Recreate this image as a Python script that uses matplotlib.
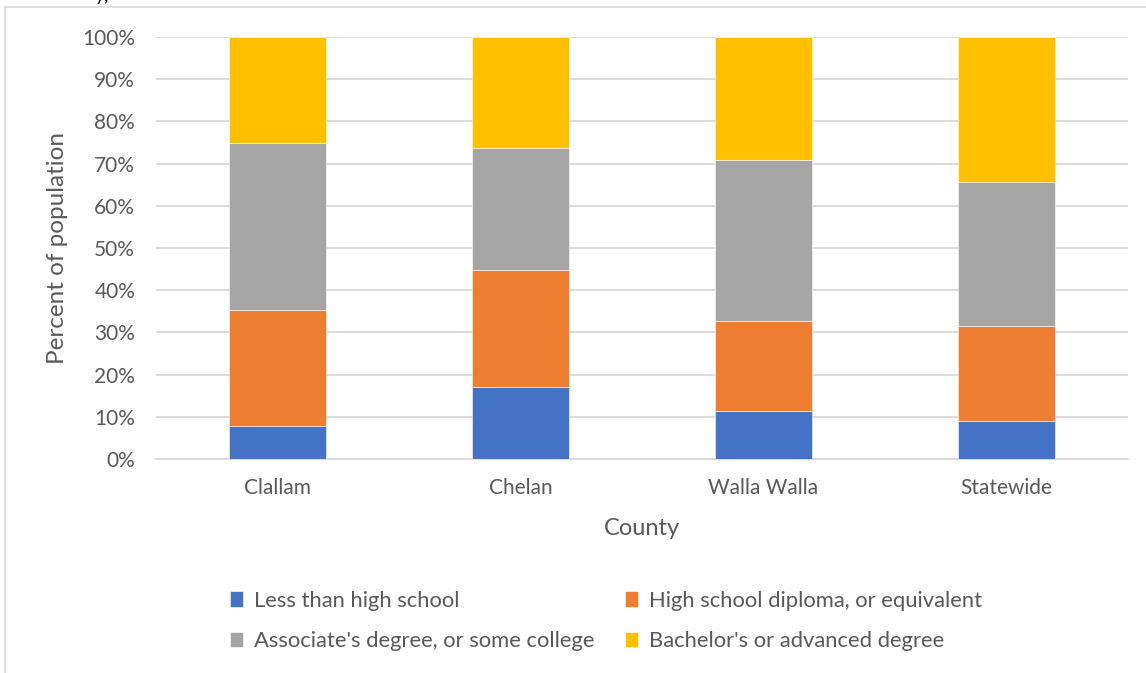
import matplotlib
matplotlib.use("Agg")
import matplotlib.pyplot as plt
from matplotlib.patches import Rectangle
import numpy as np

counties = ["Clallam", "Chelan", "Walla Walla", "Statewide"]
series_names = [
    "Less than high school",
    "High school diploma, or equivalent",
    "Associate's degree, or some college",
    "Bachelor's or advanced degree",
]
less_than_hs = [7.8, 17.1, 11.4, 9.0]
hs_diploma = [27.4, 27.7, 21.3, 22.5]
associates = [39.7, 28.9, 38.2, 34.1]
bachelors = [25.1, 26.3, 29.1, 34.4]
colors = ["#4472C4", "#ED7D31", "#A5A5A5", "#FFC000"]

plt.rcParams["font.family"] = ["Lato", "DejaVu Sans"]
text_color = "#595959"
grid_color = "#D9D9D9"

fig = plt.figure(figsize=(11.46, 6.73), dpi=100)
W, H = 1146, 673
ax = fig.add_axes([156 / W, 1 - 459 / H, (1128 - 156) / W, (459 - 37) / H])

# outer chart frame
fig.add_artist(Rectangle((5 / W, -0.1), 1.2, 1 - 7 / H + 0.1, transform=fig.transFigure,
                         fill=False, edgecolor=grid_color, linewidth=1.2))
fig.text(95 / W, 1 + 4 / H, "y,", fontsize=14, color="#000000", va="center")

x = np.arange(len(counties))
bottom = np.zeros(len(counties))
for name, vals, c in zip(series_names, [less_than_hs, hs_diploma, associates, bachelors], colors):
    ax.bar(x, vals, width=0.4, bottom=bottom, color=c, label=name, zorder=3,
           edgecolor="white", linewidth=0.4)
    bottom += np.array(vals)

ax.set_xlim(-0.5, len(counties) - 0.5)
ax.set_ylim(0, 100)
ax.set_yticks(np.arange(0, 101, 10))
ax.set_yticklabels([f"{v}%" for v in range(0, 101, 10)])
ax.set_xticks(x)
ax.set_xticklabels(counties)
ax.yaxis.grid(True, color=grid_color, linewidth=1.3, zorder=0)
for s in ["top", "right", "left"]:
    ax.spines[s].set_visible(False)
ax.spines["bottom"].set_color(grid_color)
ax.spines["bottom"].set_linewidth(1.3)
ax.tick_params(axis="both", length=0, labelsize=15, colors=text_color)
ax.tick_params(axis="y", pad=15)
ax.tick_params(axis="x", pad=14)
ax.set_ylabel("Percent of population", fontsize=17.5, color=text_color, labelpad=10)
ax.set_xlabel("County", fontsize=17, color=text_color, labelpad=14)

handles, labels = ax.get_legend_handles_labels()
order = [0, 2, 1, 3]
leg = fig.legend([handles[i] for i in order], [labels[i] for i in order],
                 loc="center", bbox_to_anchor=(606 / W, 1 - 621 / H),
                 ncol=2, frameon=False, fontsize=15.8, handlelength=0.6, handleheight=0.7,
                 handletextpad=0.5, columnspacing=1.4, labelspacing=0.95)
for t in leg.get_texts():
    t.set_color(text_color)

fig.savefig("out.png", dpi=100)
